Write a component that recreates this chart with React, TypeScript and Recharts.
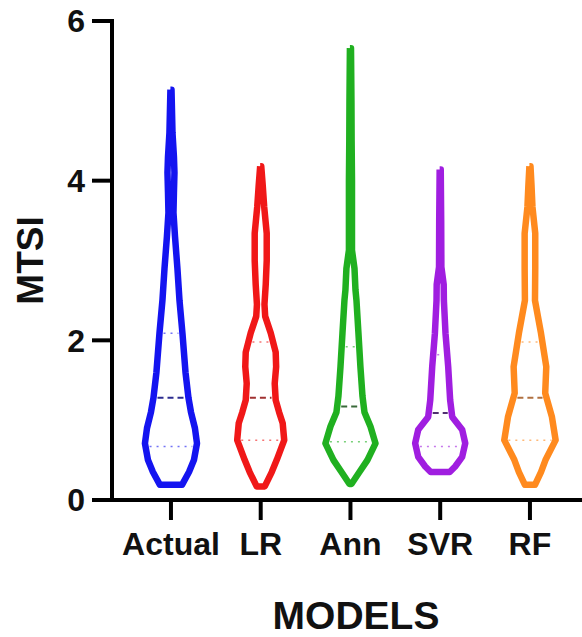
import { ComposedChart, Line, XAxis, YAxis } from "recharts";

const models = ["Actual", "LR", "Ann", "SVR", "RF"];
const colors = ["#1414f0", "#f01818", "#20b020", "#a01ee0", "#ff8a1e"];
const medianColors = ["#2c2c90", "#a03030", "#3a6a3a", "#503070", "#b07040"];

// violin outlines: MTSI level and half width (in category units)
const actualLevels = [0.19, 0.35, 0.5, 0.71, 0.9, 1.1, 1.28, 1.6, 2.09, 2.5, 2.9, 3.3, 3.6, 3.85, 4.1, 4.3, 4.6, 5.14];
const actualWidths = [0.123, 0.201, 0.256, 0.29, 0.267, 0.223, 0.195, 0.162, 0.128, 0.095, 0.072, 0.045, 0.028, 0.033, 0.039, 0.033, 0.017, 0.006];

const lrLevels = [0.17, 0.35, 0.5, 0.75, 0.96, 1.1, 1.25, 1.46, 1.67, 1.85, 2.09, 2.3, 2.45, 2.7, 3.0, 3.34, 3.67, 3.95, 4.18];
const lrWidths = [0.045, 0.123, 0.178, 0.262, 0.245, 0.205, 0.167, 0.156, 0.172, 0.167, 0.112, 0.05, 0.042, 0.056, 0.067, 0.067, 0.039, 0.022, 0.006];

const annLevels = [0.2, 0.35, 0.5, 0.71, 0.92, 1.1, 1.3, 1.67, 2.09, 2.5, 2.63, 2.9, 3.13, 3.5, 4.0, 4.5, 5.0, 5.66];
const annWidths = [0.011, 0.1, 0.189, 0.279, 0.223, 0.156, 0.134, 0.111, 0.089, 0.067, 0.056, 0.045, 0.017, 0.017, 0.017, 0.013, 0.011, 0.006];

const svrLevels = [0.35, 0.42, 0.54, 0.71, 0.88, 1.04, 1.25, 1.67, 2.09, 2.5, 2.7, 2.92, 3.5, 4.14];
const svrWidths = [0.106, 0.167, 0.245, 0.279, 0.245, 0.134, 0.111, 0.089, 0.059, 0.041, 0.039, 0.013, 0.011, 0.006];

const rfLevels = [0.19, 0.35, 0.5, 0.75, 1.04, 1.34, 1.67, 2.09, 2.5, 2.9, 3.34, 3.67, 3.95, 4.18];
const rfWidths = [0.056, 0.123, 0.173, 0.286, 0.245, 0.17, 0.182, 0.123, 0.056, 0.059, 0.059, 0.028, 0.017, 0.006];

// lower quartile, median, upper quartile
const actualQuartiles = [0.67, 1.28, 2.09];
const lrQuartiles = [0.75, 1.28, 1.98];
const annQuartiles = [0.73, 1.17, 1.92];
const svrQuartiles = [0.67, 1.09, 1.82];
const rfQuartiles = [0.75, 1.28, 1.98];

const yTicks = [0, 2, 4, 6];

const violins = [
  { levels: actualLevels, widths: actualWidths, quartiles: actualQuartiles },
  { levels: lrLevels, widths: lrWidths, quartiles: lrQuartiles },
  { levels: annLevels, widths: annWidths, quartiles: annQuartiles },
  { levels: svrLevels, widths: svrWidths, quartiles: svrQuartiles },
  { levels: rfLevels, widths: rfWidths, quartiles: rfQuartiles },
];

function outline(center: number, levels: number[], widths: number[]) {
  const left = levels.map((y, i) => ({ x: center - widths[i], y })).reverse();
  const right = levels.map((y, i) => ({ x: center + widths[i], y }));
  return [...left, ...right, left[0]];
}

function widthAt(levels: number[], widths: number[], v: number) {
  for (let i = 1; i < levels.length; i++) {
    if (v <= levels[i]) {
      const t = (v - levels[i - 1]) / (levels[i] - levels[i - 1]);
      return widths[i - 1] + t * (widths[i] - widths[i - 1]);
    }
  }
  return widths[widths.length - 1];
}

const font = "'Liberation Sans', Arial, sans-serif";

export default function App() {
  return (
    <div style={{ position: "absolute", left: 0, top: 0, background: "#fff" }}>
      <ComposedChart width={582} height={637} margin={{ top: 21, right: 0, bottom: 0, left: 0 }}>
        <XAxis
          type="number"
          dataKey="x"
          domain={[0.343, 5.58]}
          allowDataOverflow
          ticks={[1, 2, 3, 4, 5]}
          interval={0}
          tickFormatter={(v) => models[v - 1]}
          height={137}
          tickSize={20}
          tickMargin={12}
          axisLine={{ stroke: "#000", strokeWidth: 4 }}
          tickLine={{ stroke: "#000", strokeWidth: 4 }}
          tick={{ fill: "#111", fontSize: 32, fontWeight: 700, fontFamily: font }}
          label={{
            value: "MODELS",
            position: "insideBottom",
            offset: 8,
            dx: 9,
            style: { fill: "#111", fontSize: 39, fontWeight: 700, fontFamily: font },
          }}
        />
        <YAxis
          type="number"
          domain={[0, 6]}
          ticks={yTicks}
          width={112}
          tickSize={20}
          tickMargin={7}
          axisLine={{ stroke: "#000", strokeWidth: 4, strokeLinecap: "square" }}
          tickLine={{ stroke: "#000", strokeWidth: 4 }}
          tick={{ fill: "#111", fontSize: 32, fontWeight: 700, fontFamily: font }}
          label={{
            value: "MTSI",
            angle: -90,
            position: "insideLeft",
            offset: 30,
            style: { textAnchor: "middle", fill: "#111", fontSize: 37, fontWeight: 700, fontFamily: font },
          }}
        />
        {violins.map((v, i) => (
          <Line
            key={models[i]}
            name={models[i]}
            data={outline(i + 1, v.levels, v.widths)}
            dataKey="y"
            type="linear"
            stroke={colors[i]}
            strokeWidth={6.5}
            strokeLinejoin="round"
            dot={false}
            activeDot={false}
            isAnimationActive={false}
          />
        ))}
        {violins.map((v, i) =>
          v.quartiles.map((q, j) => {
            const w = Math.max(widthAt(v.levels, v.widths, q) - 0.045, 0.01);
            return (
              <Line
                key={models[i] + "-q" + j}
                name={models[i] + "-q" + j}
                data={[
                  { x: i + 1 - w, y: q },
                  { x: i + 1 + w, y: q },
                ]}
                dataKey="y"
                type="linear"
                stroke={j === 1 ? medianColors[i] : colors[i]}
                strokeOpacity={j === 1 ? 1 : 0.6}
                strokeWidth={j === 1 ? 2 : 1.5}
                strokeDasharray={j === 1 ? "6 4" : "2 5"}
                dot={false}
                activeDot={false}
                isAnimationActive={false}
              />
            );
          })
        )}
      </ComposedChart>
    </div>
  );
}
